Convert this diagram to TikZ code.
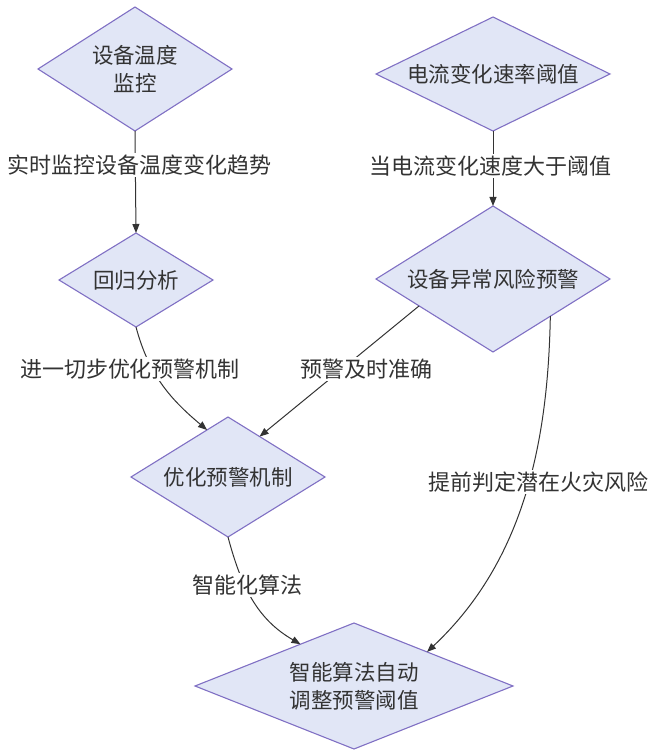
\documentclass[tikz,border=0pt]{standalone}
\usepackage{fontspec}
\setmainfont{Noto Sans CJK SC}
\usetikzlibrary{shapes.geometric,arrows.meta}
\definecolor{dfill}{RGB}{225,230,246}
\definecolor{dline}{RGB}{128,112,196}
\definecolor{txt}{RGB}{51,51,51}
\definecolor{eline}{RGB}{51,51,51}
\tikzset{
  dia/.style={diamond,aspect=2,draw=dline,fill=dfill,line width=1.1pt,inner sep=0pt,outer sep=0pt,
    text=txt,align=center,font=\fontsize{21.5}{28}\selectfont},
  elabel/.style={fill=white,inner sep=2pt,text=txt,font=\fontsize{22}{26}\selectfont},
  conn/.style={draw=eline,line width=1pt,-{Triangle[length=9pt,width=7pt]}}
}
\begin{document}
\begin{tikzpicture}[x=1pt,y=1pt]
\useasboundingbox (0,0) rectangle (651,756);
\node[dia,minimum width=194pt,minimum height=124pt] (d1) at (135,687) {设备温度\\监控};
\node[dia,minimum width=154pt,minimum height=94pt] (d2) at (136,476) {回归分析};
\node[dia,minimum width=234pt,minimum height=114pt] (d3) at (493,682) {电流变化速率阈值};
\node[dia,minimum width=234pt,minimum height=146pt] (d4) at (493,477) {设备异常风险预警};
\node[dia,minimum width=194pt,minimum height=120pt] (d5) at (228,279) {优化预警机制};
\node[dia,minimum width=318pt,minimum height=126pt] (d6) at (354,70) {智能算法自动\\调整预警阈值};

\draw[conn] (d1.south) -- (d2.north);
\draw[conn] (d3.south) -- (d4.north);
\draw[conn] (d2.south) to[out=-75,in=140] (d5.114);
\draw[conn] (d4.200) -- (d5.52);
\draw[conn] (d4.327) .. controls (548,316) and (525,196) .. (d6.25);
\draw[conn] (d5.south) to[out=-75,in=150] (d6.142);

\node[elabel] (l1) at (140,591) {实时监控设备温度变化趋势};
\node[elabel] (l2) at (490,590) {当电流变化速度大于阈值};
\node[elabel] (l3) at (130,387) {进一切步优化预警机制};
\node[elabel] (l4) at (366,387) {预警及时准确};
\node[elabel] (l5) at (538,274) {提前判定潜在火灾风险};
\node[elabel] (l6) at (247,171) {智能化算法};
\end{tikzpicture}
\end{document}
